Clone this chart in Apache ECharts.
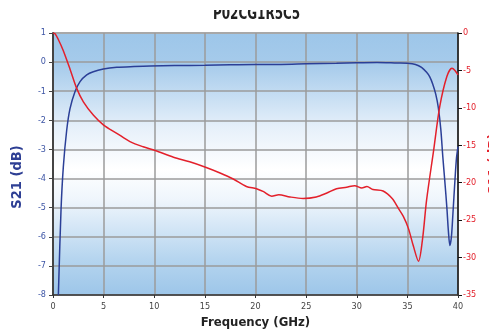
<!DOCTYPE html>
<html>
<head>
<meta charset="utf-8">
<script src="https://cdn.jsdelivr.net/npm/echarts@6/dist/echarts.min.js"></script>
<style>
  html, body { margin: 0; padding: 0; background: #fff; }
  #main { width: 489px; height: 331px; }
</style>
</head>
<body>
<div id="main"></div>
<script>
// S21 (left axis, dB) vs frequency (GHz)
var s21Freq = [0.53, 0.79, 1.02, 1.35, 1.68, 2.17, 2.67, 3.33, 3.98, 4.97, 6.3, 8, 9.6, 12, 15, 17.5, 20, 22.5, 25, 28, 30, 32, 34, 35, 35.8, 36.4, 36.9, 37.2, 37.5, 37.8, 38.05, 38.3, 38.5, 38.7, 38.9, 39.05, 39.2, 39.35, 39.5, 39.7, 39.85, 40];
var s21 = [-8, -5.1, -3.6, -2.35, -1.6, -1.02, -0.67, -0.44, -0.33, -0.24, -0.18, -0.15, -0.13, -0.12, -0.11, -0.09, -0.08, -0.08, -0.06, -0.04, -0.02, -0.01, -0.03, -0.04, -0.08, -0.18, -0.35, -0.5, -0.75, -1.1, -1.55, -2.3, -3.25, -4.1, -5.0, -5.8, -6.3, -6.0, -5.2, -4.05, -3.3, -2.9];

// S11 (right axis, dB) vs frequency (GHz)
var s11Freq = [0, 0.2, 0.5, 1.0, 1.7, 2.34, 3.0, 4.0, 5.0, 6.3, 7.6, 8.9, 10.1, 11.9, 13.5, 15.0, 16.5, 17.8, 19.1, 20.1, 20.8, 21.6, 22.3, 23.4, 24.7, 26.0, 27.0, 28.0, 29.0, 29.8, 30.5, 31.0, 31.6, 32.6, 33.5, 34.1, 34.6, 35.1, 35.6, 36.1, 36.5, 36.9, 37.6, 38.2, 38.9, 39.4, 39.7, 40];
var s11 = [0, -0.1, -0.8, -2.3, -4.9, -7.4, -9.2, -11.0, -12.3, -13.4, -14.5, -15.2, -15.7, -16.6, -17.2, -17.9, -18.7, -19.5, -20.5, -20.8, -21.2, -21.8, -21.6, -21.9, -22.1, -21.9, -21.4, -20.8, -20.6, -20.4, -20.7, -20.5, -20.9, -21.1, -22.1, -23.4, -24.5, -26.1, -28.5, -30.5, -27.5, -22.3, -15.6, -9.8, -5.8, -4.7, -5.0, -5.6];

var xTicks = { min: 0, max: 40, interval: 5 };
var leftTicks = { min: -8, max: 1, interval: 1 };
var rightTicks = { min: -35, max: 0, interval: 5 };

var narrow = "'Liberation Sans Narrow', 'DejaVu Sans Condensed', sans-serif";

function pairs(xs, ys) {
  return xs.map(function (x, i) { return [x, ys[i]]; });
}

var chart = echarts.init(document.getElementById('main'));
var option = {
  animation: false,
  grid: {
    left: 53, right: 31, top: 33, bottom: 36,
    outerBoundsMode: 'none',
    containLabel: false,
    show: true,
    borderWidth: 0,
    backgroundColor: new echarts.graphic.LinearGradient(0, 0, 0, 1, [
      { offset: 0, color: '#9dc6e9' },
      { offset: 0.12, color: '#a6cbeb' },
      { offset: 0.36, color: '#e6f0fa' },
      { offset: 0.52, color: '#ffffff' },
      { offset: 0.64, color: '#eef5fc' },
      { offset: 0.86, color: '#b6d5ef' },
      { offset: 1, color: '#9dc6e9' }
    ])
  },
  xAxis: {
    type: 'value',
    min: xTicks.min, max: xTicks.max, interval: xTicks.interval,
    name: 'Frequency (GHz)',
    nameLocation: 'middle',
    nameGap: 21,
    nameTextStyle: { fontFamily: narrow, fontWeight: 'bold', fontSize: 13, color: '#222' },
    axisLine: { onZero: false, lineStyle: { color: '#333', width: 1.5 } },
    axisTick: { show: true, length: 3, lineStyle: { color: '#333' } },
    axisLabel: { fontFamily: narrow, fontSize: 9, color: '#444', margin: 7 },
    splitLine: { show: true, lineStyle: { color: '#9b9b9b', width: 1.5 } }
  },
  yAxis: [
    {
      type: 'value',
      position: 'left',
      min: leftTicks.min, max: leftTicks.max, interval: leftTicks.interval,
      name: 'S21 (dB)',
      nameLocation: 'middle',
      nameGap: 28,
      nameTextStyle: { fontFamily: narrow, fontWeight: 'bold', fontSize: 14.5, color: '#2e3f94', padding: [0, 26, 0, 0] },
      axisLine: { show: true, onZero: false, lineStyle: { color: '#444', width: 2 } },
      axisTick: { show: true, length: 4, lineStyle: { color: '#444' } },
      axisLabel: { fontFamily: narrow, fontSize: 9, color: '#3d55a5', margin: 7 },
      splitLine: { show: true, lineStyle: { color: '#9b9b9b', width: 1.5 } }
    },
    {
      type: 'value',
      position: 'right',
      min: rightTicks.min, max: rightTicks.max, interval: rightTicks.interval,
      name: 'S11 (dB)',
      nameLocation: 'middle',
      nameGap: 21,
      nameTextStyle: { fontFamily: narrow, fontWeight: 'bold', fontSize: 14, color: '#e3202b' },
      axisLine: { show: true, onZero: false, lineStyle: { color: '#111', width: 1.5 } },
      axisTick: { show: true, length: 4, lineStyle: { color: '#111' } },
      axisLabel: { fontFamily: narrow, fontSize: 9, color: '#e3202b', margin: 5 },
      splitLine: { show: false }
    }
  ],
  graphic: [
    {
      // chart title, condensed like the original
      type: 'text',
      x: 213, y: 5,
      scaleX: 0.74,
      style: { text: 'P02CG1R5C5', font: 'bold 18px ' + narrow, fill: '#222' }
    },
    {
      // top of the title is cut off in the original
      type: 'rect',
      z: 100,
      shape: { x: 150, y: 0, width: 200, height: 10 },
      style: { fill: '#fff' }
    },
    {
      type: 'line',
      shape: { x1: 53, y1: 33, x2: 458, y2: 33 },
      style: { stroke: '#cfcfcf', lineWidth: 2 }
    }
  ],
  series: [
    {
      name: 'S21',
      type: 'line',
      yAxisIndex: 0,
      data: pairs(s21Freq, s21),
      smooth: 0.3,
      showSymbol: false,
      lineStyle: { color: '#2b3f97', width: 1.5 }
    },
    {
      name: 'S11',
      type: 'line',
      yAxisIndex: 1,
      data: pairs(s11Freq, s11),
      smooth: 0.3,
      showSymbol: false,
      lineStyle: { color: '#e3202b', width: 1.5 }
    }
  ]
};
chart.setOption(option);
</script>
</body>
</html>
